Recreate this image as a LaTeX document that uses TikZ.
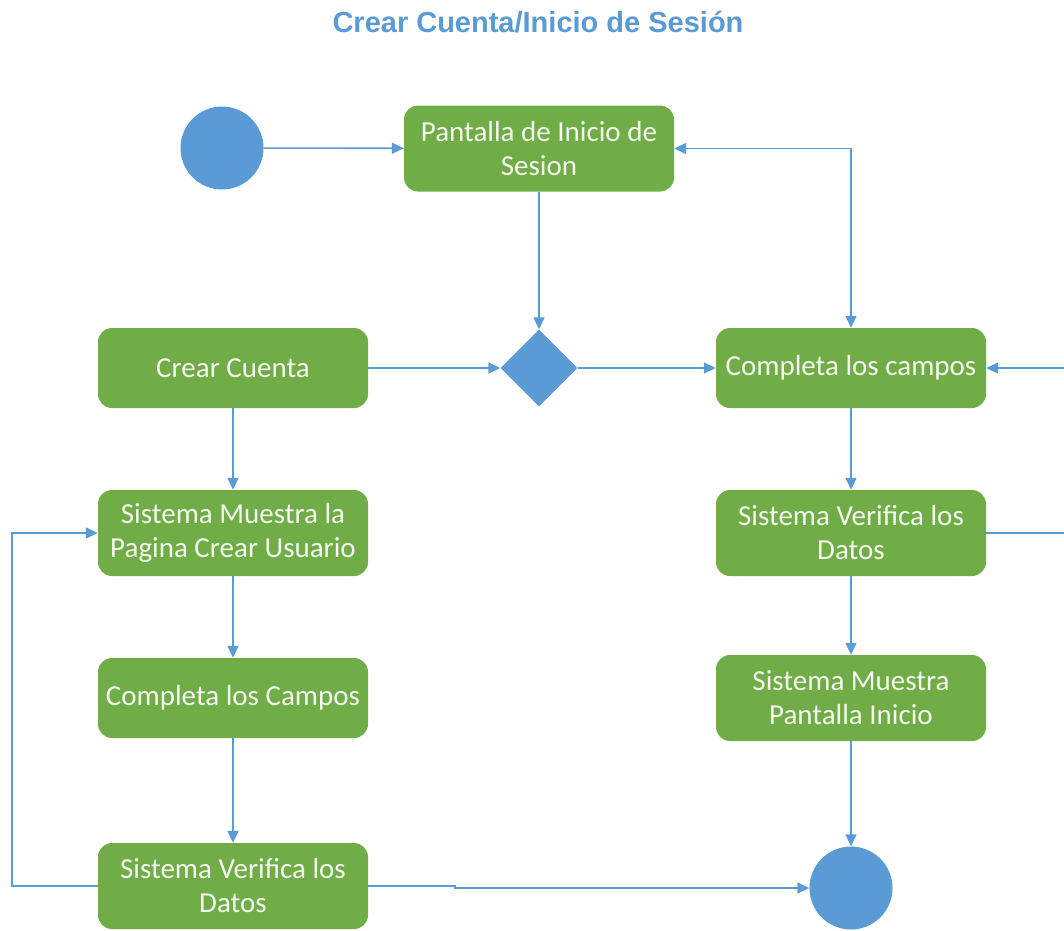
\documentclass[tikz,border=0pt]{standalone}
\usepackage{fontspec}
\setmainfont{Carlito}
\newfontfamily\titlefont{Liberation Sans}
\usetikzlibrary{arrows.meta,shapes.geometric}
\definecolor{actgreen}{HTML}{70AD47}
\definecolor{flowblue}{HTML}{5B9BD5}
\definecolor{labelwhite}{HTML}{F4F8F0}

\begin{document}
\begin{tikzpicture}[x=1pt,y=-1pt,
  activity/.style={rectangle, rounded corners=14pt, fill=actgreen, text=labelwhite,
    font=\fontsize{29}{34}\selectfont, align=center, minimum width=270pt, inner sep=0pt},
  startend/.style={circle, fill=flowblue, minimum size=83pt, inner sep=0pt},
  decision/.style={diamond, fill=flowblue, minimum width=77pt, minimum height=77pt, inner sep=0pt},
  flow/.style={draw=flowblue, line width=1.6pt, -{Triangle[length=12pt,width=11pt]}},
  twoway/.style={draw=flowblue, line width=1.6pt, {Triangle[length=12pt,width=11pt]}-{Triangle[length=12pt,width=11pt]}},
  titletext/.style={font=\titlefont\bfseries\fontsize{29}{34}\selectfont, text=flowblue}]

  \useasboundingbox (0,0) rectangle (1064,930);
  \clip (0,0) rectangle (1064,930);

  % title
  \node[titletext] (title) at (538,22) {Crear Cuenta/Inicio de Sesión};

  % start, decision and end
  \node[startend] (ini) at (222,148) {};
  \node[decision] (dec) at (539,368) {};
  \node[startend] (fin) at (851,888) {};

  % activities
  \node[activity, minimum height=86pt] (pant) at (539,148.5) {Pantalla de Inicio de\\Sesion};
  \node[activity, minimum height=80pt] (crear) at (233,368) {Crear Cuenta};
  \node[activity, minimum height=80pt] (camposR) at (851,368) {Completa los campos};
  \node[activity, minimum height=86pt] (paginaU) at (233,533) {Sistema Muestra la\\Pagina Crear Usuario};
  \node[activity, minimum height=86pt] (verifR) at (851,533) {Sistema Verifica los\\Datos};
  \node[activity, minimum height=86pt] (muestraI) at (851,698) {Sistema Muestra\\Pantalla Inicio};
  \node[activity, minimum height=80pt] (camposL) at (233,698) {Completa los Campos};
  \node[activity, minimum height=86pt] (verifL) at (233,886) {Sistema Verifica los\\Datos};

  % loop anchors
  \coordinate (rightloop) at (1080,533);
  \coordinate (leftloop) at (12,886);
  \coordinate (jogA) at (455,886);
  \coordinate (jogB) at (455,888);

  % connectors
  \draw[flow] (ini) -- (pant);
  \draw[flow] (pant) -- (dec);
  \draw[flow] (crear) -- (dec);
  \draw[flow] (dec) -- (camposR);
  \draw[twoway] (pant.east) -| (camposR.north);
  \draw[flow] (verifR.east) -- (rightloop) |- (camposR.east);
  \draw[flow] (camposR) -- (verifR);
  \draw[flow] (verifR) -- (muestraI);
  \draw[flow] (muestraI) -- (fin);
  \draw[flow] (crear) -- (paginaU);
  \draw[flow] (paginaU) -- (camposL);
  \draw[flow] (camposL) -- (verifL);
  \draw[flow] (verifL.west) -- (leftloop) |- (paginaU.west);
  \draw[flow] (verifL.east) -- (jogA) -- (jogB) -- (fin.west);
\end{tikzpicture}
\end{document}
